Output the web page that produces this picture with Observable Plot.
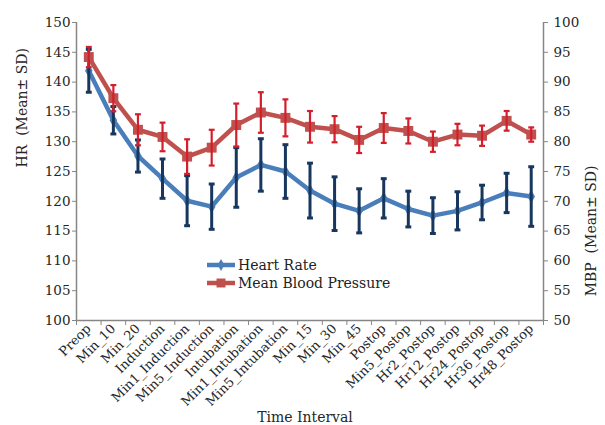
<!DOCTYPE html>
<html>
<head>
<meta charset="utf-8">
<script src="https://cdn.jsdelivr.net/npm/d3@7"></script>
<script src="https://cdn.jsdelivr.net/npm/@observablehq/plot@0.6"></script>
<style>
  body { margin: 0; background: #fff; }
  #wrap { position: relative; width: 605px; height: 425px; font-family: "DejaVu Serif", serif; }
  #legend { position: absolute; left: 206px; top: 256px; font-size: 14px; color: #222; line-height: 18px; }
  #legend .row { display: flex; align-items: center; height: 18px; }
  #legend svg { margin-right: 2px; }
</style>
</head>
<body>
<div id="wrap"><div id="legend"></div></div>
<script>
const categories = ["Preop","Min_10","Min_20","Induction","Min1_Induction","Min5_Induction","Intubation","Min1_Intubation","Min5_Intubation","Min_15","Min_30","Min_45","Postop","Min5_Postop","Hr2_Postop","Hr12_Postop","Hr24_Postop","Hr36_Postop","Hr48_Postop"];
const hrMean = [141.9,133.6,127.6,123.8,120.1,119.1,124.0,126.1,125.0,121.8,119.6,118.4,120.5,118.7,117.6,118.4,119.8,121.4,120.8];
const hrSD   = [3.6,2.3,2.7,3.3,4.2,3.8,5.0,4.4,4.5,4.6,4.5,3.7,3.3,3.0,3.0,3.2,2.9,3.3,5.0];
const mbpMean = [94.2,87.3,82.0,80.8,77.5,79.0,82.8,84.9,84.0,82.5,82.1,80.3,82.3,81.8,80.0,81.2,81.0,83.5,81.2];
const mbpSD   = [1.7,2.2,2.6,2.4,2.9,3.0,3.6,3.4,3.1,2.65,2.2,2.2,2.5,2.1,1.7,1.8,1.7,1.65,1.2];
const hrTicks = [100,105,110,115,120,125,130,135,140,145,150];
const mbpOffset = 50; // right axis 50–100 aligned with left axis 100–150

const hrColor = "#4a7ebb", hrErr = "#17375e";
const mbpColor = "#c0504d", mbpErr = "#d21f2b";
const axisColor = "#868686", textColor = "#262626";

const hr = categories.map((c, i) => ({i, c, v: hrMean[i], sd: hrSD[i]}));
const mbp = categories.map((c, i) => ({i, c, v: mbpMean[i] + mbpOffset, sd: mbpSD[i]}));
const cap = 0.12;

function series(data, line, err, symbol, r, ew) {
  return [
    Plot.line(data, {x: "i", y: "v", stroke: line, strokeWidth: 4.5}),
    Plot.dot(data, {x: "i", y: "v", symbol, r, fill: line, stroke: "none"}),
    Plot.ruleX(data, {x: "i", y1: d => d.v - d.sd, y2: d => d.v + d.sd, stroke: err, strokeWidth: ew}),
    Plot.link(data, {x1: d => d.i - cap, x2: d => d.i + cap, y1: d => d.v + d.sd, y2: d => d.v + d.sd, stroke: err, strokeWidth: ew}),
    Plot.link(data, {x1: d => d.i - cap, x2: d => d.i + cap, y1: d => d.v - d.sd, y2: d => d.v - d.sd, stroke: err, strokeWidth: ew})
  ];
}

const chart = Plot.plot({
  width: 605, height: 425,
  marginLeft: 76, marginRight: 62, marginTop: 22, marginBottom: 105,
  style: {fontFamily: "DejaVu Serif, serif", background: "#fff", color: textColor},
  x: {domain: [-0.5, categories.length - 0.5]},
  y: {domain: [100, 150]},
  marks: [
    Plot.axisY({ticks: hrTicks, tickSize: 4, tickPadding: 2, fontSize: 13.5, stroke: axisColor, fill: textColor, label: null}),
    Plot.axisY({anchor: "right", ticks: hrTicks, tickFormat: d => d - mbpOffset, tickSize: 4, tickPadding: 6, fontSize: 13.5,
      stroke: axisColor, fill: textColor, label: null}),
    Plot.axisX({ticks: d3.range(-0.5, categories.length, 1), tickSize: 5, tickFormat: () => "", stroke: axisColor, label: null}),
    Plot.axisX({ticks: d3.range(0, categories.length), tickSize: 0, tickPadding: 6, tickRotate: -45, fontSize: 13,
      tickFormat: i => categories[i], fill: textColor, label: null}),
    Plot.text(["Time Interval"], {frameAnchor: "bottom", dy: 97, dx: -5, lineAnchor: "middle", fontSize: 14, fill: textColor}),
    Plot.text(["HR  (Mean\u00b1 SD)"], {frameAnchor: "left", dx: -54, dy: -4, rotate: -90, lineAnchor: "middle", fontSize: 14, fill: textColor}),
    Plot.text(["MBP  (Mean\u00b1 SD)"], {frameAnchor: "right", dx: 48, dy: -6, rotate: -90, lineAnchor: "middle", fontSize: 14, fill: textColor}),
    Plot.ruleX([-0.5, categories.length - 0.5], {stroke: axisColor, strokeWidth: 1.5}),
    Plot.ruleY([100], {stroke: axisColor, strokeWidth: 1.5}),
    ...series(hr, hrColor, hrErr, "diamond", 4, 3),
    ...series(mbp, mbpColor, mbpErr, "square", 5.6, 2.2)
  ]
});
document.getElementById("wrap").prepend(chart);

const legendItems = [
  {label: "Heart Rate", color: hrColor, symbol: d3.symbolDiamond, size: 40},
  {label: "Mean Blood Pressure", color: mbpColor, symbol: d3.symbolSquare, size: 80}
];
const lg = d3.select("#legend");
legendItems.forEach(item => {
  const row = lg.append("div").attr("class", "row");
  const s = row.append("svg").attr("width", 30).attr("height", 12);
  s.append("line").attr("x1", 1).attr("x2", 29).attr("y1", 6).attr("y2", 6).attr("stroke", item.color).attr("stroke-width", 4.5);
  s.append("path").attr("transform", "translate(15,6)").attr("d", d3.symbol(item.symbol, item.size)()).attr("fill", item.color);
  row.append("span").text(item.label);
});
</script>
</body>
</html>
